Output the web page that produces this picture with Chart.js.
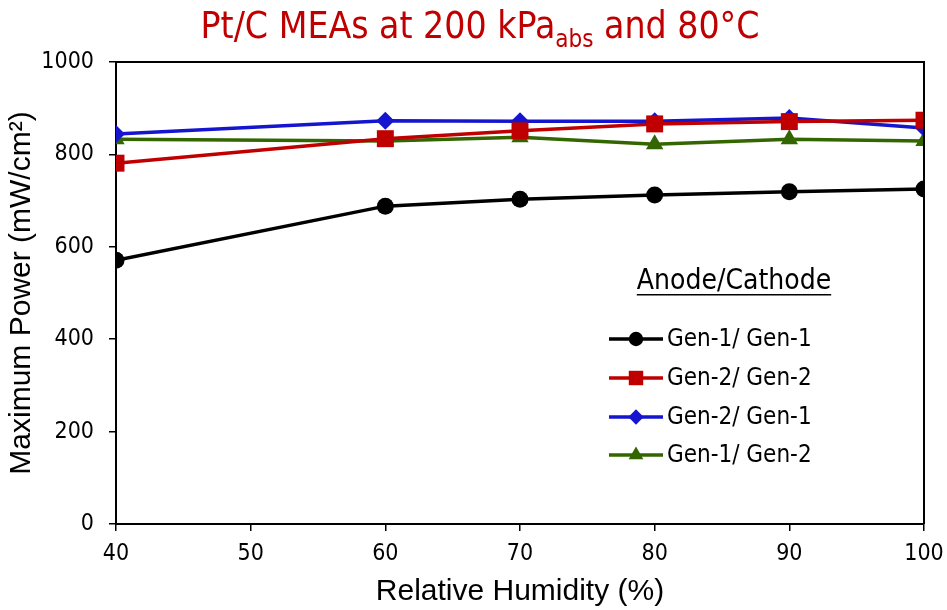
<!DOCTYPE html>
<html>
<head>
<meta charset="utf-8">
<script src="https://cdn.jsdelivr.net/npm/chart.js@4.4.1/dist/chart.umd.min.js"></script>
<style>
  html, body { margin: 0; padding: 0; background: #fff; }
  #wrap { width: 947px; height: 610px; }
</style>
</head>
<body>
<div id="wrap"><canvas id="chart" width="947" height="610"></canvas></div>
<script>
// relative humidity (%) for each measurement
const humidity = [40, 60, 70, 80, 90, 100];

// maximum power (mW/cm2), anode/cathode combos
const gen1Gen1 = [571, 688, 703, 712, 719, 725];
const gen2Gen2 = [781, 834, 851, 866, 871, 874];
const gen2Gen1 = [844, 873, 872, 872, 879, 857];
const gen1Gen2 = [833, 829, 837, 822, 833, 829];

const seriesNames = ['Gen-1/ Gen-1', 'Gen-2/ Gen-2', 'Gen-2/ Gen-1', 'Gen-1/ Gen-2'];

const xTicks = [40, 50, 60, 70, 80, 90, 100];
const yTicks = [0, 200, 400, 600, 800, 1000];

const TAHOMA = '"DejaVu Sans Condensed", "DejaVu Sans", sans-serif';
const ARIAL = '"Liberation Sans", Arial, sans-serif';

function toPoints(ys) {
    return humidity.map((x, i) => ({ x: x, y: ys[i] }));
}

function makeSet(label, data, color, style, radius) {
    return {
        label: label,
        data: toPoints(data),
        borderColor: color,
        backgroundColor: color,
        borderWidth: 3.5,
        pointStyle: style,
        pointRadius: radius,
        pointHoverRadius: radius,
        pointBorderWidth: 0,
        tension: 0
    };
}

// title with the "abs" subscript
const titlePlugin = {
    id: 'subTitle',
    afterDraw(chart) {
        const ctx = chart.ctx;
        const parts = [
            { t: 'Pt/C MEAs at 200 kPa', size: 37, dy: 0 },
            { t: 'abs', size: 24, dy: 9 },
            { t: ' and 80°C', size: 37, dy: 0 }
        ];
        ctx.save();
        ctx.fillStyle = '#C00000';
        ctx.textBaseline = 'alphabetic';
        let total = 0;
        parts.forEach(p => { ctx.font = p.size + 'px ' + TAHOMA; p.w = ctx.measureText(p.t).width; total += p.w; });
        let x = 480 - total / 2;
        parts.forEach(p => {
            ctx.font = p.size + 'px ' + TAHOMA;
            ctx.fillText(p.t, x, 38 + p.dy);
            x += p.w;
        });
        ctx.restore();
    }
};

// plot box on top/right, plus a legend placed inside the plot
const boxLegendPlugin = {
    id: 'boxLegend',
    afterDatasetsDraw(chart) {
        const ctx = chart.ctx;
        const a = chart.chartArea;
        ctx.save();
        ctx.strokeStyle = '#000';
        ctx.lineWidth = 2;
        ctx.beginPath();
        ctx.moveTo(a.left, a.top);
        ctx.lineTo(a.right, a.top);
        ctx.lineTo(a.right, a.bottom);
        ctx.stroke();

        ctx.fillStyle = '#000';
        ctx.font = '28px ' + TAHOMA;
        ctx.textBaseline = 'middle';
        ctx.textAlign = 'center';
        const head = 'Anode/Cathode';
        ctx.fillText(head, 734, 282);
        const hw = ctx.measureText(head).width;
        ctx.fillRect(734 - hw / 2, 294, hw, 1.5);

        ctx.textAlign = 'left';
        ctx.font = '24px ' + TAHOMA;
        const rows = [339, 378, 417, 455];
        chart.data.datasets.forEach((ds, i) => {
            const y = rows[i];
            ctx.strokeStyle = ds.borderColor;
            ctx.lineWidth = 3.5;
            ctx.beginPath();
            ctx.moveTo(609, y);
            ctx.lineTo(663, y);
            ctx.stroke();
            ctx.fillStyle = ds.backgroundColor;
            Chart.helpers.drawPoint(ctx, { pointStyle: ds.pointStyle, radius: ds.pointRadius * 0.85, borderWidth: 0 }, 636, y);
            ctx.fillStyle = '#000';
            ctx.fillText(ds.label, 667, y + 1);
        });
        ctx.restore();
    }
};

new Chart(document.getElementById('chart'), {
    type: 'line',
    data: {
        datasets: [
            makeSet(seriesNames[0], gen1Gen1, '#000000', 'circle', 8.5),
            makeSet(seriesNames[1], gen2Gen2, '#C00000', 'rect', 12),
            makeSet(seriesNames[2], gen2Gen1, '#1515D0', 'rectRot', 9),
            makeSet(seriesNames[3], gen1Gen2, '#336600', 'triangle', 10)
        ]
    },
    options: {
        responsive: false,
        animation: false,
        layout: { padding: { top: 62, right: 23, left: 0, bottom: 0 } },
        plugins: {
            legend: { display: false },
            title: { display: false },
            tooltip: { enabled: false }
        },
        scales: {
            x: {
                type: 'linear',
                min: 40,
                max: 100,
                afterBuildTicks: s => { s.ticks = xTicks.map(v => ({ value: v })); },
                afterFit: s => { s.height = 86; s.paddingLeft = 0; s.paddingRight = 0; },
                border: { display: true, color: '#000', width: 2 },
                grid: { display: true, drawOnChartArea: false, color: '#000', lineWidth: 1.5, tickLength: 7 },
                ticks: { color: '#000', font: { family: TAHOMA, size: 23 }, padding: 9, maxRotation: 0, callback: v => String(v) },
                title: {
                    display: true,
                    text: 'Relative Humidity (%)',
                    color: '#000',
                    font: { family: ARIAL, size: 30 },
                    padding: { top: 0, bottom: 0 }
                }
            },
            y: {
                min: 0,
                max: 1000,
                afterBuildTicks: s => { s.ticks = yTicks.map(v => ({ value: v })); },
                afterFit: s => { s.width = 116; s.paddingTop = 0; s.paddingBottom = 0; },
                border: { display: true, color: '#000', width: 2 },
                grid: { display: true, drawOnChartArea: false, color: '#000', lineWidth: 1.5, tickLength: 7 },
                ticks: { color: '#000', font: { family: TAHOMA, size: 23 }, padding: 15, callback: v => String(v) },
                title: {
                    display: true,
                    text: 'Maximum Power (mW/cm²)',
                    color: '#000',
                    font: { family: ARIAL, size: 30 },
                    padding: { top: 4, bottom: 0 }
                }
            }
        }
    },
    plugins: [titlePlugin, boxLegendPlugin]
});
</script>
</body>
</html>
